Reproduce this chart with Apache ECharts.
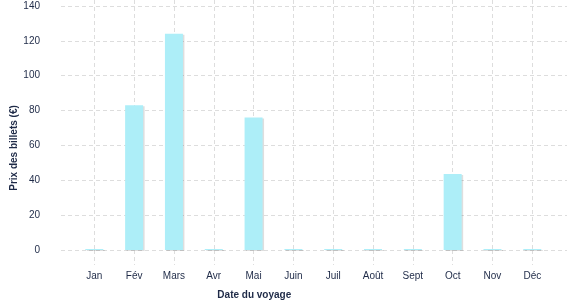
<!DOCTYPE html>
<html>
<head>
<meta charset="utf-8">
<script src="https://cdn.jsdelivr.net/npm/echarts@6/dist/echarts.min.js"></script>
<style>
html,body{margin:0;padding:0;background:#fff;}
#chart{width:577px;height:300px;}
</style>
</head>
<body>
<div id="chart"></div>
<script>
const months = ['Jan','Fév','Mars','Avr','Mai','Juin','Juil','Août','Sept','Oct','Nov','Déc'];
const prices = [0, 83, 124, 0, 76, 0, 0, 0, 0, 43.6, 0, 0];
const yTicks = [0, 20, 40, 60, 80, 100, 120, 140];
const xTitle = 'Date du voyage';
const yTitle = 'Prix des billets (€)';

const textColor = '#1e2a47';
const font = 'Liberation Sans';
const dash = {color:'#dddddd', width:1, type:[4,3]};

const chart = echarts.init(document.getElementById('chart'));
chart.setOption({
  animation:false,
  textStyle:{fontFamily:font},
  grid:[
    {left:61, right:10, top:6, bottom:50, containLabel:false, outerBoundsMode:'none'},
    {left:94.3, right:44.7, top:0, bottom:50, containLabel:false, outerBoundsMode:'none'}
  ],
  xAxis:[
    {type:'category', gridIndex:0, data:months, show:false},
    {type:'category', gridIndex:1, data:months, boundaryGap:false,
     axisLine:{show:false},
     axisTick:{show:true, length:15, lineStyle:dash},
     splitLine:{show:true, lineStyle:dash},
     axisLabel:{color:textColor, fontSize:10, margin:21, fontFamily:font},
     name:xTitle, nameLocation:'middle', nameGap:40, nameMoveOverlap:false,
     nameTextStyle:{color:textColor, fontSize:10, fontWeight:'bold', fontFamily:font, padding:[0,118,0,0]}}
  ],
  yAxis:[
    {type:'value', gridIndex:0, min:yTicks[0], max:yTicks[yTicks.length-1], interval:20,
     axisLine:{show:false}, axisTick:{show:false},
     splitLine:{show:true, lineStyle:dash},
     axisLabel:{color:textColor, fontSize:10, margin:21, fontFamily:font},
     name:yTitle, nameLocation:'middle', nameGap:42, nameMoveOverlap:false,
     nameTextStyle:{color:textColor, fontSize:10, fontWeight:'bold', fontFamily:font, padding:[0,40,0,0]}},
    {type:'value', gridIndex:1, min:0, max:143.43, show:false, splitLine:{show:false}}
  ],
  series:[{
    type:'bar', xAxisIndex:1, yAxisIndex:1, data:prices, barWidth:18, barMinHeight:1, clip:false,
    itemStyle:{color:'#adeef8', shadowColor:'rgba(0,0,0,0.13)', shadowOffsetX:1.5, shadowOffsetY:1, shadowBlur:0}
  }]
});
</script>
</body>
</html>
